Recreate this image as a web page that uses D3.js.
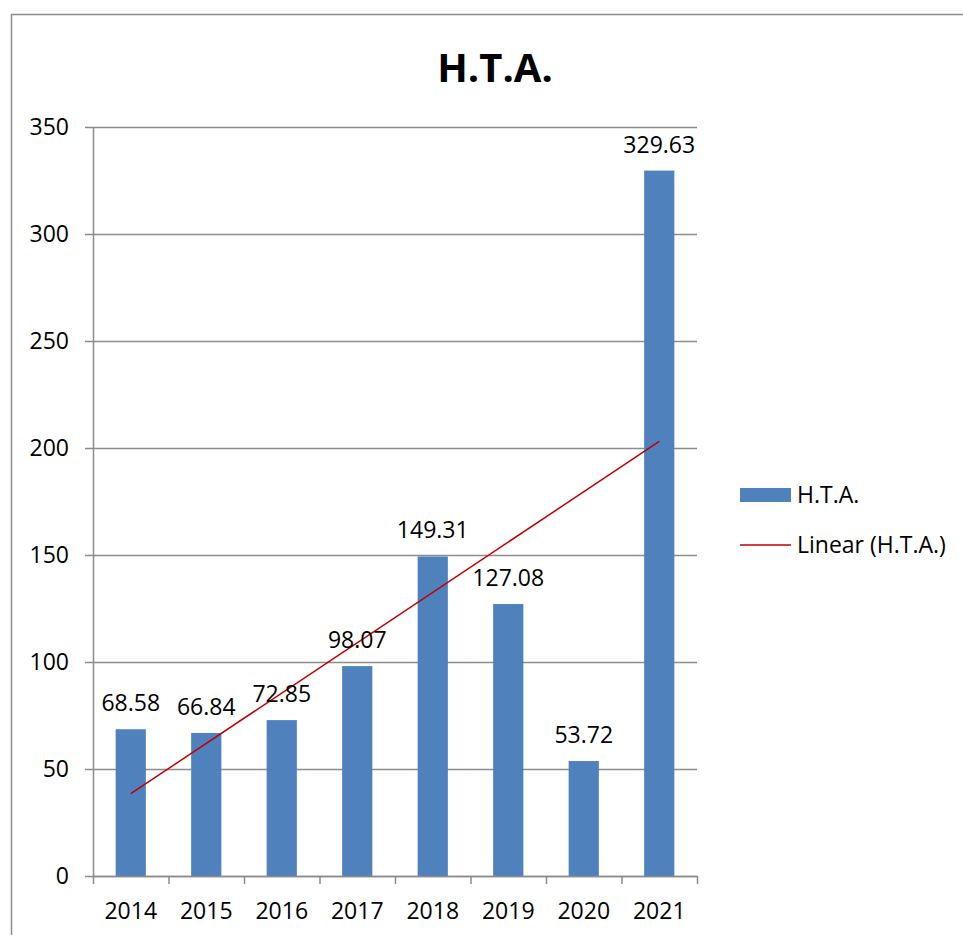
<!DOCTYPE html>
<html>
<head>
<meta charset="utf-8">
<script src="https://cdn.jsdelivr.net/npm/d3@7"></script>
<style>
  body { margin: 0; background: #fff; }
  svg text { font-family: "Open Sans", "Liberation Sans", sans-serif; fill: #000; }
</style>
</head>
<body>
<svg id="chart" width="963" height="935"></svg>
<script>
const years = ["2014", "2015", "2016", "2017", "2018", "2019", "2020", "2021"];
const values = [68.58, 66.84, 72.85, 98.07, 149.31, 127.08, 53.72, 329.63];
const yTicks = [0, 50, 100, 150, 200, 250, 300, 350];
const seriesName = "H.T.A.";
const trendName = "Linear (H.T.A.)";

const svg = d3.select("#chart");
const margin = { top: 127, left: 93, right: 266, bottom: 59 },
    width = +svg.attr("width") - margin.left - margin.right,
    height = +svg.attr("height") - margin.top - margin.bottom;

// outer frame (only top and left edges are visible)
svg.append("path")
    .attr("d", "M11.5,935 V14.5 H963")
    .attr("fill", "none")
    .attr("stroke", "#8c8c8c")
    .attr("stroke-width", 1.5);

svg.append("text")
    .attr("x", 495)
    .attr("y", 82)
    .attr("text-anchor", "middle")
    .style("font-size", "40px")
    .style("font-weight", "bold")
    .text(seriesName);

const g = svg.append("g")
    .attr("transform", "translate(" + margin.left + "," + margin.top + ")");

const x = d3.scaleBand().domain(years).range([0, width]).paddingInner(0.6).paddingOuter(0.3);
const xc = d3.scaleBand().domain(years).range([0, width]);
const y = d3.scaleLinear().domain([0, 350]).range([height, 0]);

// gridlines + y axis
g.append("g")
    .selectAll(".grid")
    .data(yTicks)
    .enter()
    .append("line")
    .attr("class", "grid")
    .attr("x1", -8)
    .attr("x2", width)
    .attr("y1", (d) => Math.round(y(d)) + 0.5)
    .attr("y2", (d) => Math.round(y(d)) + 0.5)
    .attr("stroke", "#8c8c8c")
    .attr("stroke-width", 1.5);

g.append("g")
    .selectAll(".ylab")
    .data(yTicks)
    .enter()
    .append("text")
    .attr("x", -24)
    .attr("y", (d) => y(d))
    .attr("dy", "0.36em")
    .attr("text-anchor", "end")
    .style("font-size", "23px")
    .text((d) => d);

g.append("line")
    .attr("x1", 0.5).attr("x2", 0.5)
    .attr("y1", 0).attr("y2", height)
    .attr("stroke", "#8c8c8c")
    .attr("stroke-width", 1.5);

// bars
g.append("g")
    .selectAll(".bar")
    .data(values)
    .enter()
    .append("rect")
    .attr("class", "bar")
    .attr("x", (d, i) => x(years[i]))
    .attr("width", x.bandwidth())
    .attr("y", (d) => y(d))
    .attr("height", (d) => height - y(d))
    .attr("fill", "#4f81bd");

// x axis
const xAxis = g.append("g")
    .attr("transform", "translate(0," + height + ")");
xAxis.append("line")
    .attr("x1", 0).attr("x2", width)
    .attr("y1", 0.5).attr("y2", 0.5)
    .attr("stroke", "#8c8c8c")
    .attr("stroke-width", 1.5);
xAxis.selectAll(".xtick")
    .data(years.concat(["end"]))
    .enter()
    .append("line")
    .attr("x1", (d, i) => i * xc.step() + 0.5)
    .attr("x2", (d, i) => i * xc.step() + 0.5)
    .attr("y1", 0)
    .attr("y2", 8)
    .attr("stroke", "#8c8c8c")
    .attr("stroke-width", 1.5);
xAxis.selectAll(".xlab")
    .data(years)
    .enter()
    .append("text")
    .attr("x", (d) => xc(d) + xc.bandwidth() / 2)
    .attr("y", 43)
    .attr("text-anchor", "middle")
    .style("font-size", "23px")
    .text((d) => d);

// linear trendline (least squares over category index)
const n = values.length;
const xs = d3.range(1, n + 1);
const mx = d3.mean(xs), my = d3.mean(values);
const slope = d3.sum(xs, (v, i) => (v - mx) * (values[i] - my)) / d3.sum(xs, (v) => (v - mx) * (v - mx));
const icpt = my - slope * mx;
g.append("line")
    .attr("x1", xc(years[0]) + xc.bandwidth() / 2)
    .attr("y1", y(icpt + slope * 1))
    .attr("x2", xc(years[n - 1]) + xc.bandwidth() / 2)
    .attr("y2", y(icpt + slope * n))
    .attr("stroke", "#c00000")
    .attr("stroke-width", 1.5);

// data labels
g.append("g")
    .selectAll(".dlab")
    .data(values)
    .enter()
    .append("text")
    .attr("x", (d, i) => xc(years[i]) + xc.bandwidth() / 2)
    .attr("y", (d) => y(d) - 18)
    .attr("text-anchor", "middle")
    .style("font-size", "23px")
    .text((d) => d.toFixed(2));

// legend
const lg = svg.append("g").attr("transform", "translate(740,0)");
lg.append("rect")
    .attr("x", 0).attr("y", 488)
    .attr("width", 51).attr("height", 14)
    .attr("fill", "#4f81bd");
lg.append("text")
    .attr("x", 57).attr("y", 495)
    .attr("dy", "0.36em")
    .style("font-size", "23px")
    .text(seriesName);
lg.append("line")
    .attr("x1", 0).attr("x2", 51)
    .attr("y1", 545).attr("y2", 545)
    .attr("stroke", "#c00000")
    .attr("stroke-width", 1.5);
lg.append("text")
    .attr("x", 57).attr("y", 545)
    .attr("dy", "0.36em")
    .style("font-size", "23px")
    .text(trendName);
</script>
</body>
</html>
